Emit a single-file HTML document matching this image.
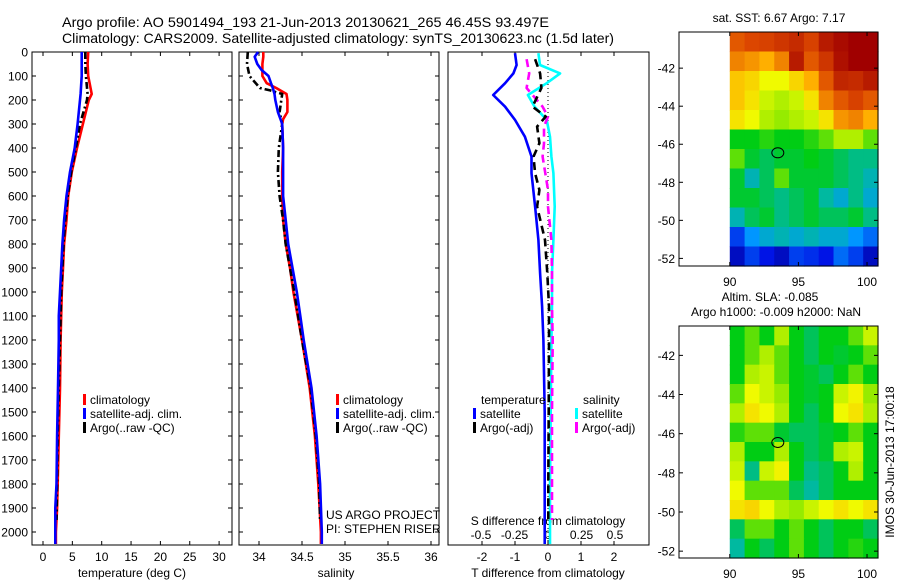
<!DOCTYPE html>
<html><head><meta charset="utf-8">
<style>
html,body{margin:0;padding:0;background:#fff;}
svg{display:block;font-family:"Liberation Sans",sans-serif;}
text{fill:#000;}
</style></head>
<body>
<svg id="fig" width="900" height="580" viewBox="0 0 900 580" xmlns="http://www.w3.org/2000/svg">
<text x="62" y="27" font-size="14" textLength="487" lengthAdjust="spacingAndGlyphs">Argo profile: AO 5901494_193 21-Jun-2013 20130621_265 46.45S 93.497E</text>
<text x="62" y="43" font-size="14" textLength="552" lengthAdjust="spacingAndGlyphs">Climatology: CARS2009. Satellite-adjusted climatology: synTS_20130623.nc (1.5d later)</text>
<g id="g"></g>
</svg>
<script>
// ---------- profile data ----------
const depthTemp = [0,50,100,175,200,300,400,500,600,700,800,900,1000,1100,1200,1400,1600,1800,1900,2000,2050];
const tempClim  = [7.7,7.6,7.7,8.3,7.8,6.8,5.8,4.9,4.3,4.0,3.6,3.4,3.2,3.1,3.0,2.9,2.7,2.5,2.4,2.2,2.2];
const tempSat   = [6.6,6.6,6.6,6.4,6.3,5.9,5.4,4.6,4.0,3.6,3.3,3.1,2.9,2.7,2.7,2.55,2.4,2.3,2.1,2.1,2.1];
const depthArgoT= [0,50,100,175,200,300,400,500,600,700,800,900,1000,1200,1400,1600,1800,1950];
const tempArgo  = [7.2,7.2,7.3,7.6,7.5,6.3,5.6,4.8,4.2,3.8,3.5,3.3,3.1,2.9,2.7,2.5,2.4,2.3];

const depthSal = [0,20,50,75,100,130,150,175,200,250,280,300,400,500,600,700,800,900,1000,1100,1200,1400,1600,1800,2000,2050];
const salClim  = [34.05,34.05,34.04,34.04,34.04,34.09,34.2,34.32,34.33,34.33,34.28,34.27,34.28,34.27,34.27,34.28,34.31,34.36,34.40,34.45,34.50,34.59,34.65,34.69,34.72,34.72];
const salSat   = [33.99,33.95,33.98,34.03,34.11,34.14,34.16,34.18,34.19,34.22,34.25,34.27,34.28,34.28,34.28,34.31,34.34,34.39,34.44,34.48,34.52,34.61,34.67,34.71,34.73,34.73];
const depthArgoS=[0,50,100,125,150,160,175,250,300,400,500,600,700,800,900,1000,1200,1400,1600,1800,1950];
const salArgo  = [33.87,33.86,33.89,33.95,34.01,34.13,34.27,34.24,34.27,34.23,34.22,34.24,34.28,34.31,34.36,34.41,34.5,34.6,34.66,34.7,34.71];

const depthDiff = [5,54,89,130,179,228,283,353,436,505,644,783,922,1061,1200,1500,1800,2050];
const tDiffSat  = [-1.0,-0.95,-1.05,-1.3,-1.66,-1.3,-1.0,-0.7,-0.5,-0.5,-0.39,-0.29,-0.24,-0.18,-0.14,-0.1,-0.1,-0.1];
const sDiffSat  = [-0.072,-0.06,0.09,-0.01,-0.15,-0.1,-0.01,0.015,0.025,0.04,0.05,0.04,0.03,0.03,0.025,0.02,0.015,0.015];
const depthDiffArgo = [30,89,150,228,269,311,380,436,505,575,644,783,922,1061,1200,1500,1800,1950];
const tDiffArgo = [-0.39,-0.24,-0.2,-0.47,-0.07,-0.33,-0.26,-0.44,-0.39,-0.26,-0.33,-0.09,-0.02,0.03,0.03,0.02,0.01,0.01];
const sDiffArgo = [-0.16,-0.14,-0.16,-0.04,0.0,-0.03,-0.03,-0.04,-0.02,0.0,0.0,0.025,0.03,0.03,0.035,0.03,0.03,0.03];

const depthTicks = [0,100,200,300,400,500,600,700,800,900,1000,1100,1200,1300,1400,1500,1600,1700,1800,1900,2000];
const tempTicks = [0,5,10,15,20,25,30];
const salTicks = [34,34.5,35,35.5,36];
const salTickLabels = ["34","34.5","35","35.5","36"];
const tdTicks = [-2,-1,0,1,2];
const sdTicks = [-0.5,-0.25,0,0.25,0.5];
const sdTickLabels = ["-0.5","-0.25","0","0.25","0.5"];

// ---------- map data (colormap index 0..1), rows north->south ----------
const sstGrid = [
[0.85,0.87,0.88,0.9,0.92,0.88,0.95,0.98,1,1],
[0.8,0.78,0.75,0.8,0.95,0.85,0.9,0.97,1,1],
[0.72,0.7,0.65,0.65,0.7,0.75,0.85,0.93,0.92,0.95],
[0.72,0.68,0.62,0.6,0.62,0.68,0.8,0.85,0.88,0.85],
[0.68,0.65,0.6,0.58,0.6,0.62,0.68,0.78,0.8,0.75],
[0.5,0.5,0.52,0.5,0.5,0.52,0.55,0.6,0.6,0.55],
[0.55,0.48,0.45,0.48,0.48,0.5,0.48,0.45,0.42,0.42],
[0.48,0.38,0.45,0.55,0.48,0.48,0.48,0.45,0.42,0.38],
[0.48,0.48,0.45,0.42,0.45,0.48,0.4,0.35,0.42,0.35],
[0.38,0.45,0.48,0.42,0.45,0.48,0.45,0.45,0.48,0.42],
[0.2,0.3,0.35,0.38,0.35,0.38,0.35,0.35,0.3,0.25],
[0.1,0.2,0.15,0.1,0.2,0.18,0.15,0.25,0.2,0.1]];
const slaGrid = [
[0.5,0.55,0.5,0.6,0.5,0.45,0.5,0.5,0.55,0.62],
[0.5,0.55,0.6,0.55,0.5,0.45,0.5,0.48,0.5,0.55],
[0.5,0.6,0.62,0.55,0.5,0.48,0.45,0.5,0.55,0.5],
[0.55,0.65,0.62,0.58,0.5,0.48,0.5,0.62,0.66,0.58],
[0.6,0.68,0.65,0.6,0.5,0.45,0.5,0.65,0.68,0.6],
[0.52,0.55,0.55,0.48,0.45,0.45,0.48,0.5,0.55,0.5],
[0.6,0.5,0.5,0.6,0.5,0.45,0.48,0.6,0.62,0.5],
[0.62,0.42,0.62,0.66,0.5,0.42,0.45,0.5,0.6,0.5],
[0.65,0.55,0.55,0.55,0.45,0.4,0.45,0.5,0.5,0.5],
[0.68,0.7,0.65,0.6,0.58,0.62,0.65,0.68,0.65,0.68],
[0.45,0.55,0.55,0.5,0.55,0.5,0.45,0.5,0.5,0.45],
[0.4,0.5,0.45,0.5,0.55,0.5,0.45,0.5,0.52,0.5]];
const latTicks = [-42,-44,-46,-48,-50,-52];
const lonTicks = [90,95,100];
const floatLon = 93.5, floatLat = -46.45;

// ---------- helpers ----------
const NS = "http://www.w3.org/2000/svg";
const G = document.getElementById("g");
function mk(tag, attrs, parent){ const e=document.createElementNS(NS,tag); for(const k in attrs) e.setAttribute(k,attrs[k]); (parent||G).appendChild(e); return e; }
function txt(x,y,s,size,anchor,parent){ const t=mk("text",{x:x,y:y,"font-size":size||12,"text-anchor":anchor||"start"},parent); t.textContent=s; return t; }

const TOP=52, BOT=545;
const yD = d => 52 + d*0.24;
const xT = v => 43 + v*5.87;
const xS = v => 259 + (v-34)*86;
const xTd = v => 548 + v*33;
const xSd = v => 548 + v*134;

function panel(x0,x1,name){
  const r = mk("rect",{x:x0,y:TOP,width:x1-x0,height:BOT-TOP,fill:"none",stroke:"#000","stroke-width":1});
  
  
}
function line(xs,ds,xf,color,dash,name,w){
  const pts = xs.map((v,i)=> xf(v).toFixed(1)+","+yD(ds[i]).toFixed(1)).join(" ");
  const p = mk("polyline",{points:pts,fill:"none",stroke:color,"stroke-width":w||2.6,"stroke-dasharray":dash||"none","stroke-linejoin":"round"});
  
  
}

panel(32,232,"temperature-panel");
panel(239,439,"salinity-panel");
panel(448,649,"difference-panel");

depthTicks.forEach(d=>{
  const y=yD(d);
  const t = txt(28,y+4.5,String(d),12,"end");
  
  
  [[32,36],[228,232],[239,243],[435,439]].forEach(s=>mk("line",{x1:s[0],x2:s[1],y1:y,y2:y,stroke:"#000"}));
});
tempTicks.forEach(v=>{
  const x=xT(v);
  mk("line",{x1:x,x2:x,y1:TOP,y2:TOP+4,stroke:"#000"}); mk("line",{x1:x,x2:x,y1:BOT,y2:BOT-4,stroke:"#000"});
  const t=txt(x,561,String(v),12,"middle");
  
  
});
salTicks.forEach((v,i)=>{
  const x=xS(v);
  mk("line",{x1:x,x2:x,y1:TOP,y2:TOP+4,stroke:"#000"}); mk("line",{x1:x,x2:x,y1:BOT,y2:BOT-4,stroke:"#000"});
  const t=txt(x,561,salTickLabels[i],12,"middle");
  
  
});
tdTicks.forEach(v=>{
  const x=xTd(v);
  mk("line",{x1:x,x2:x,y1:TOP,y2:TOP+4,stroke:"#000"}); mk("line",{x1:x,x2:x,y1:BOT,y2:BOT-4,stroke:"#000"});
  const t=txt(x,561,String(v),12,"middle");
  
  
});
sdTicks.forEach((v,i)=>{
  const t=txt(xSd(v),539,sdTickLabels[i],12,"middle");
  
  
});
let a;
a=txt(132,577,"temperature (deg C)",12,"middle");  
a=txt(336,577,"salinity",12,"middle");  
a=txt(548,577,"T difference from climatology",12,"middle");  
a=txt(548,525,"S difference from climatology",12,"middle");  

a=mk("line",{x1:548,x2:548,y1:TOP,y2:BOT,stroke:"#000","stroke-dasharray":"1,3"});
 

line(tempClim,depthTemp,xT,"#ff0000",null,"temp-climatology-line");
line(tempArgo,depthArgoT,xT,"#000000","7,3,2,3","temp-argo-line");
line(tempSat,depthTemp,xT,"#0000ff",null,"temp-satellite-line");
line(salClim,depthSal,xS,"#ff0000",null,"sal-climatology-line");
line(salArgo,depthArgoS,xS,"#000000","7,3,2,3","sal-argo-line");
line(salSat,depthSal,xS,"#0000ff",null,"sal-satellite-line");
line(sDiffSat,depthDiff,xSd,"#00ffff",null,"s-diff-satellite-line");
line(sDiffArgo,depthDiffArgo,xSd,"#ff00ff","8,5","s-diff-argo-line");
line(tDiffArgo,depthDiffArgo,xTd,"#000000","8,5","t-diff-argo-line");
line(tDiffSat,depthDiff,xTd,"#0000ff",null,"t-diff-satellite-line");

function legItem(x,y,color,label,name){
  const r=mk("rect",{x:x,y:y-10,width:3,height:11,fill:color});
  
  
  const t=txt(x+7,y,label,12);
  
  
}
legItem(83,404,"#ff0000","climatology","legend-climatology");
legItem(83,418,"#0000ff","satellite-adj. clim.","legend-satellite-adj");
legItem(83,432,"#000000","Argo(..raw -QC)","legend-argo");
legItem(336,404,"#ff0000","climatology","legend-sal-climatology");
legItem(336,418,"#0000ff","satellite-adj. clim.","legend-sal-satellite-adj");
legItem(336,432,"#000000","Argo(..raw -QC)","legend-sal-argo");
a=txt(481,404,"temperature",12);  
a=txt(583,404,"salinity",12);  
legItem(473,418,"#0000ff","satellite","legend-t-satellite");
legItem(473,432,"#000000","Argo(-adj)","legend-t-argo");
legItem(575,418,"#00ffff","satellite","legend-s-satellite");
legItem(575,432,"#ff00ff","Argo(-adj)","legend-s-argo");
a=txt(326,519,"US ARGO PROJECT",12);  
a=txt(326,533,"PI: STEPHEN RISER",12);  

// ---------- maps ----------
const cmapStops = [[0,[0,0,120]],[0.15,[0,20,230]],[0.3,[0,150,255]],[0.4,[0,185,160]],[0.5,[0,205,20]],[0.58,[150,235,0]],[0.65,[240,250,0]],[0.75,[255,175,0]],[0.87,[220,70,0]],[1,[160,0,0]]];
function cmap(v){
  v=Math.max(0,Math.min(1,v));
  for(let i=1;i<cmapStops.length;i++){
    const [p1,c1]=cmapStops[i-1],[p2,c2]=cmapStops[i];
    if(v<=p2){ const t=(v-p1)/(p2-p1); return "rgb("+c1.map((c,k)=>Math.round(c+(c2[k]-c)*t)).join(",")+")"; }
  }
  return "rgb(160,0,0)";
}
function map(cfg){
  const {x0,x1,yTop,yBot,latTop,latBot,grid,name} = cfg;
  const lonMin=86.3, lonMax=100.8;
  const lx = lon => x0 + (lon-lonMin)/(lonMax-lonMin)*(x1-x0);
  const ly = lat => yTop + (latTop-lat)/(latTop-latBot)*(yBot-yTop);
  const gx0=lx(90), rows=grid.length, cols=grid[0].length;
  const cw=(x1-gx0)/cols, ch=(yBot-yTop)/rows;
  grid.forEach((row,i)=>row.forEach((v,j)=>{
    const c=mk("rect",{x:(gx0+j*cw).toFixed(2),y:(yTop+i*ch).toFixed(2),width:(cw+0.6).toFixed(2),height:(ch+0.6).toFixed(2),fill:cmap(v)});
    
    
  }));
  const b=mk("rect",{x:x0,y:yTop,width:x1-x0,height:yBot-yTop,fill:"none",stroke:"#000"});
  
  
  latTicks.forEach(l=>{
    const y=ly(l);
    mk("line",{x1:x0,x2:x0+4,y1:y,y2:y,stroke:"#000"}); mk("line",{x1:x1,x2:x1-4,y1:y,y2:y,stroke:"#000"});
    const t=txt(x0-4,y+4.5,String(l),12,"end");
    
    
  });
  lonTicks.forEach(l=>{
    const x=lx(l);
    mk("line",{x1:x,x2:x,y1:yBot,y2:yBot-4,stroke:"#000"}); mk("line",{x1:x,x2:x,y1:yTop,y2:yTop+4,stroke:"#000"});
    const t=txt(x,yBot+20,String(l),12,"middle");
    
    
  });
  const m=mk("ellipse",{cx:lx(floatLon),cy:ly(floatLat),rx:6,ry:5,fill:"none",stroke:"#000","stroke-width":1});
  
  
}
map({x0:679,x1:878,yTop:32,yBot:266,latTop:-40.1,latBot:-52.4,grid:sstGrid,name:"sst-map"});
map({x0:679,x1:878,yTop:326,yBot:558,latTop:-40.5,latBot:-52.35,grid:slaGrid,name:"sla-map"});
a=txt(779,22,"sat. SST: 6.67 Argo: 7.17",12,"middle");  
a=txt(770,301,"Altim. SLA: -0.085",12,"middle");  
a=txt(776,316,"Argo h1000: -0.009 h2000: NaN",12,"middle");  
a=txt(0,0,"IMOS 30-Jun-2013 17:00:18",12,"middle"); a.setAttribute('transform','translate(894,462) rotate(-90)');
 
</script>
</body></html>
